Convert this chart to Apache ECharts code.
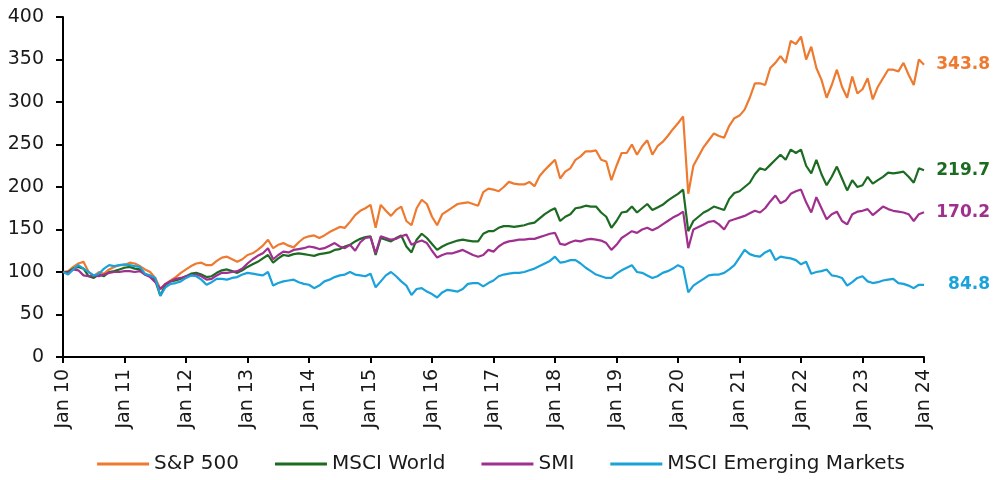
<!DOCTYPE html>
<html>
<head>
<meta charset="utf-8">
<script src="https://cdn.jsdelivr.net/npm/echarts@6/dist/echarts.min.js"></script>
<style>
  html, body { margin: 0; padding: 0; background: #fff; }
  #chart { width: 1002px; height: 480px; }
</style>
</head>
<body>
<div id="chart"></div>
<script>
// Monthly index levels, rebased to 100 at January 2010
const monthNames = ['Jan','Feb','Mar','Apr','May','Jun','Jul','Aug','Sep','Oct','Nov','Dec'];
const years = ['10','11','12','13','14','15','16','17','18','19','20','21','22','23','24'];
const yTicks = [0, 50, 100, 150, 200, 250, 300, 350, 400];

const seriesNames = ['S&P 500', 'MSCI World', 'SMI', 'MSCI Emerging Markets'];

const sp500 = [
  100, 101, 106, 110, 112, 100, 95, 100, 98, 103, 106, 108,
  108, 111, 110, 107, 103, 100, 93, 80, 86, 90, 94, 99,
  103, 107, 110, 111, 108, 108, 113, 117, 118, 115, 112, 115,
  120, 122, 126, 131, 138, 128, 132, 134, 131, 129, 135, 140,
  142, 143, 140, 143, 147, 150, 153, 152, 159, 167, 172, 175,
  179, 152, 179, 172, 166, 173, 177, 160, 155, 175, 185, 180,
  165, 155, 168, 172, 176, 180, 181, 182, 180, 178, 194, 198,
  197, 195, 200, 206, 204, 203, 203, 206, 201, 213, 220, 226,
  232, 210, 218, 222, 232, 236, 242, 242, 243, 232, 230, 208,
  225, 240, 240, 250, 238, 248, 255, 238, 248, 253, 260, 268,
  275, 283, 192, 225, 236, 247, 255, 263, 260, 258, 272, 281,
  284, 291, 305, 322, 322, 320, 340, 346, 354, 346, 372, 368,
  377, 350, 365, 340, 326, 305, 320, 338, 318, 305, 330, 310,
  315, 328, 303, 318, 328, 338, 338, 336, 346, 332, 320, 350,
  343.8
];

const msciWorld = [
  100, 100, 104, 106, 104, 95, 93, 97, 95, 100, 101, 103,
  105, 106, 104, 103, 97, 95, 90, 72, 85, 89, 90, 92,
  95, 98, 99, 97, 94, 95, 99, 102, 103, 101, 99, 102,
  106, 109, 112, 116, 120, 111, 116, 120, 119, 121, 122, 121,
  120, 119, 121, 122, 123, 126, 127, 130, 132, 136, 139, 141,
  142, 120, 140, 138, 136, 140, 143, 130, 123, 138, 145, 140,
  133, 126, 130, 133, 135, 137, 138, 137, 136, 136, 145, 148,
  148, 152, 154, 154, 153, 154, 155, 157, 158, 163, 168, 172,
  175, 160, 165, 168, 175, 176, 178, 177, 177, 170, 165, 152,
  160, 170, 171, 177, 170, 175, 180, 173, 176, 179, 184, 188,
  192, 197, 148, 160, 165, 170, 173, 177, 175, 173, 186, 193,
  195, 200, 205, 215, 222, 220, 226, 232, 238, 232, 244, 240,
  244, 225, 216, 232, 215, 202, 212, 224, 210, 196, 208, 200,
  202, 212, 204, 208, 212, 217, 216, 217, 218, 212, 205, 222,
  219.7
];

const smi = [
  100, 99, 103, 102, 96, 95, 96, 95, 97, 99, 100, 100,
  101, 101, 100, 101, 97, 94, 88, 80, 86, 89, 92, 93,
  95, 96, 97, 95, 91, 92, 96, 99, 99, 100, 101, 104,
  110, 115, 119, 122, 128, 115, 120, 124, 123, 126, 127, 128,
  130, 129, 127, 128, 131, 134, 130, 128, 132, 125, 135, 140,
  141, 122, 142, 140, 138, 139, 142, 144, 132, 135, 137, 134,
  125, 117, 120, 122, 122, 124, 126, 123, 120, 118, 120, 126,
  124, 130, 134, 136, 137, 138, 138, 139, 139, 141, 143, 145,
  146, 133, 132, 135, 137, 136, 138, 139, 138, 137, 134, 126,
  132, 140, 144, 148, 146, 150, 152, 149, 152, 156, 160, 164,
  167, 171, 128, 150, 153, 156, 159, 160, 156, 150, 160, 162,
  164, 166, 169, 172, 170, 175, 183, 190, 181, 184, 192, 195,
  197, 182, 170, 188, 175, 162, 168, 171, 160, 156, 168, 171,
  172, 174, 167, 172, 177, 174, 172, 171, 170, 168, 160, 168,
  170.2
];

const msciEM = [
  100, 97, 103, 108, 104, 100, 96, 98, 104, 108, 107, 108,
  109, 108, 107, 106, 98, 96, 93, 72, 82, 86, 87, 89,
  93, 96, 95, 91, 85, 88, 92, 92, 91, 93, 94, 97,
  99, 98, 97, 96, 100, 84, 87, 89, 90, 91, 88, 86,
  85, 81, 84, 89, 91, 94, 96, 97, 100, 97, 96, 95,
  98, 82, 89, 96, 100, 95, 89, 84, 73, 80, 81, 77,
  74, 70, 76, 79, 78, 77, 80, 86, 87, 87, 83, 87,
  90, 95, 97, 98, 99, 99, 100, 102, 104, 107, 110, 113,
  118, 111, 112, 114, 114, 110, 105, 101, 97, 95, 93, 93,
  98, 102, 105, 108, 100, 99, 96, 93, 95, 99, 101, 104,
  108, 105, 76, 84, 88, 92, 96, 97, 97, 99, 103, 108,
  117, 126, 121, 119, 118, 123, 126, 114, 118, 117, 116, 114,
  109, 112, 98, 100, 101, 103, 96, 95, 93, 84, 88, 93,
  95, 89, 87, 88, 90, 91, 92, 87, 86, 84, 81, 85,
  84.8
];

const colors = ['#EE7A30', '#1C6B22', '#A0308F', '#1AA2DA'];

// Month categories from Jan 10 through Jan 24
const categories = [];
years.forEach(function (yy, i) {
  monthNames.forEach(function (mn, j) {
    if (i < years.length - 1 || j === 0) categories.push(mn + ' ' + yy);
  });
});

const FONT = 'DejaVu Sans';
const isJan = function (idx) { return idx % 12 === 0; };

const chart = echarts.init(document.getElementById('chart'), null, { renderer: 'canvas' });

function makeSeries(name, data, color) {
  return {
    name: name,
    type: 'line',
    data: data,
    symbol: 'none',
    smooth: false,
    lineStyle: { width: 2.2, color: color },
    itemStyle: { color: color },
    emphasis: { disabled: true },
    endLabel: {
      show: true,
      distance: 10,
      formatter: function (p) { return '{v|' + p.value.toFixed(1) + '}'; },
      rich: {
        v: {
          width: 56,
          align: 'right',
          fontFamily: FONT,
          fontSize: 17,
          fontWeight: 'bold',
          color: color
        }
      }
    }
  };
}

chart.setOption({
  animation: false,
  color: colors,
  textStyle: { fontFamily: FONT },
  grid: { left: 63, right: 78, top: 17, bottom: 123, containLabel: false },
  xAxis: {
    type: 'category',
    data: categories,
    boundaryGap: false,
    axisLine: { show: true, lineStyle: { color: '#000', width: 2 } },
    axisTick: { show: true, interval: function (idx) { return isJan(idx); }, length: 6, lineStyle: { color: '#000', width: 2 } },
    axisLabel: {
      interval: function (idx) { return isJan(idx); },
      rotate: 90,
      fontFamily: FONT,
      fontSize: 19,
      color: '#1a1a1a',
      margin: 12
    },
    splitLine: { show: false }
  },
  yAxis: {
    type: 'value',
    min: yTicks[0],
    max: yTicks[yTicks.length - 1],
    interval: yTicks[1] - yTicks[0],
    axisLine: { show: true, lineStyle: { color: '#000', width: 2 } },
    axisTick: { show: true, length: 7, lineStyle: { color: '#000', width: 2 } },
    axisLabel: { fontFamily: FONT, fontSize: 19, color: '#1a1a1a', margin: 19 },
    splitLine: { show: false }
  },
  legend: {
    bottom: 1,
    left: 'center',
    icon: 'rect',
    itemWidth: 52,
    itemHeight: 3,
    itemGap: 36,
    textStyle: { fontFamily: FONT, fontSize: 20, color: '#1a1a1a' },
    data: seriesNames
  },
  series: [
    makeSeries(seriesNames[0], sp500, colors[0]),
    makeSeries(seriesNames[1], msciWorld, colors[1]),
    makeSeries(seriesNames[2], smi, colors[2]),
    makeSeries(seriesNames[3], msciEM, colors[3])
  ]
});
</script>
</body>
</html>
